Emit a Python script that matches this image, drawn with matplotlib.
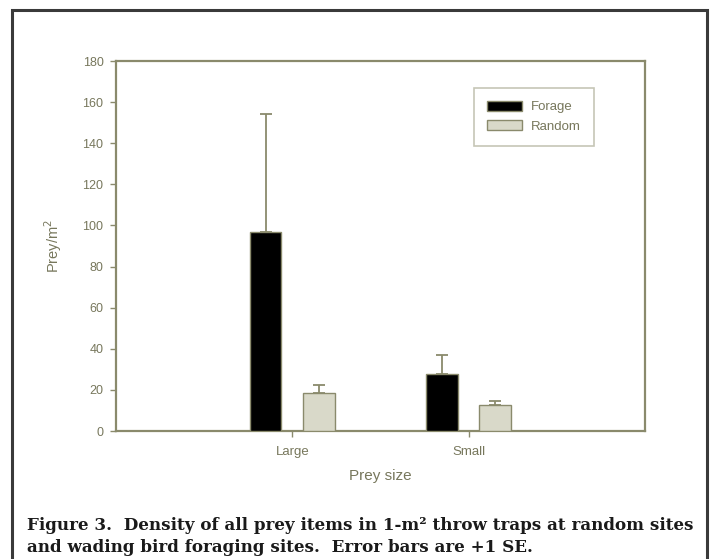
import matplotlib.pyplot as plt
import numpy as np
from matplotlib.patches import Rectangle

# Данные
categories = ['Large', 'Small']
forage = [96.8, 27.5]
forage_se = [57.4, 9.5]
random_vals = [18.5, 12.5]
random_se = [4.0, 2.1]
yticks = [0, 20, 40, 60, 80, 100, 120, 140, 160, 180]

olive = '#8a8a6c'
text_c = '#77775c'

fig = plt.figure(figsize=(7.12, 5.59), dpi=100)
plt.rcParams['font.family'] = ['Liberation Sans', 'DejaVu Sans']

# Рамка вокруг рисунка
fig.patches.append(Rectangle((12 / 712, -0.05), 695 / 712, 1.05 - 10 / 559,
                             transform=fig.transFigure, fill=False,
                             edgecolor='#3a3a3a', linewidth=2.2))

ax = fig.add_axes([116 / 712, 1 - 431 / 559, 529 / 712, 370 / 559])
x = np.arange(len(categories))
w = 0.18
ax.bar(x - 0.152, forage, w, color='black', edgecolor=olive, linewidth=1,
       label='Forage', zorder=3)
ax.bar(x + 0.15, random_vals, w, color='#d9d9c9', edgecolor=olive, linewidth=1,
       label='Random', zorder=3)
ax.errorbar(x - 0.152, forage, yerr=[np.zeros(2), forage_se], fmt='none',
            ecolor=olive, elinewidth=1.3, capsize=4.5, capthick=1.3, zorder=2)
ax.errorbar(x + 0.15, random_vals, yerr=[np.zeros(2), random_se], fmt='none',
            ecolor=olive, elinewidth=1.3, capsize=4.5, capthick=1.3, zorder=2)

ax.set_xlim(-1, 2)
ax.set_ylim(0, 180)
ax.set_yticks(yticks)
ax.set_xticks(x)
ax.set_xticklabels(categories)
for s in ax.spines.values():
    s.set_color(olive)
    s.set_linewidth(1.6)
ax.tick_params(colors=olive, labelcolor=text_c, labelsize=9, length=4, width=1,
               pad=5)
ax.tick_params(axis='x', pad=7, labelsize=9.5)
ax.set_ylabel('Prey/m$^2$', color=text_c, fontsize=10.5, labelpad=13)
ax.set_xlabel('Prey size', color=text_c, fontsize=11, labelpad=8)

leg = ax.legend(loc='upper left', bbox_to_anchor=(0.677, 0.928), fontsize=9.5,
                frameon=True, fancybox=False, handlelength=2.6, handleheight=0.8,
                borderpad=1.0, labelspacing=0.5, borderaxespad=0,
                handletextpad=0.7)
leg.get_frame().set_edgecolor('#b8b8a4')
leg.get_frame().set_linewidth(1.2)
for t in leg.get_texts():
    t.set_color(text_c)

# Подпись
cap1 = 'Figure 3.  Density of all prey items in 1-m² throw traps at random sites'
cap2 = 'and wading bird foraging sites.  Error bars are +1 SE.'
fig.text(27 / 712, 1 - 530 / 559, cap1, fontsize=12.1, fontweight='bold',
         family=['DejaVu Serif'], color='#1a1a1a')
fig.text(27 / 712, 1 - 552 / 559, cap2, fontsize=12.1, fontweight='bold',
         family=['DejaVu Serif'], color='#1a1a1a')

fig.savefig('out.png', dpi=100)
